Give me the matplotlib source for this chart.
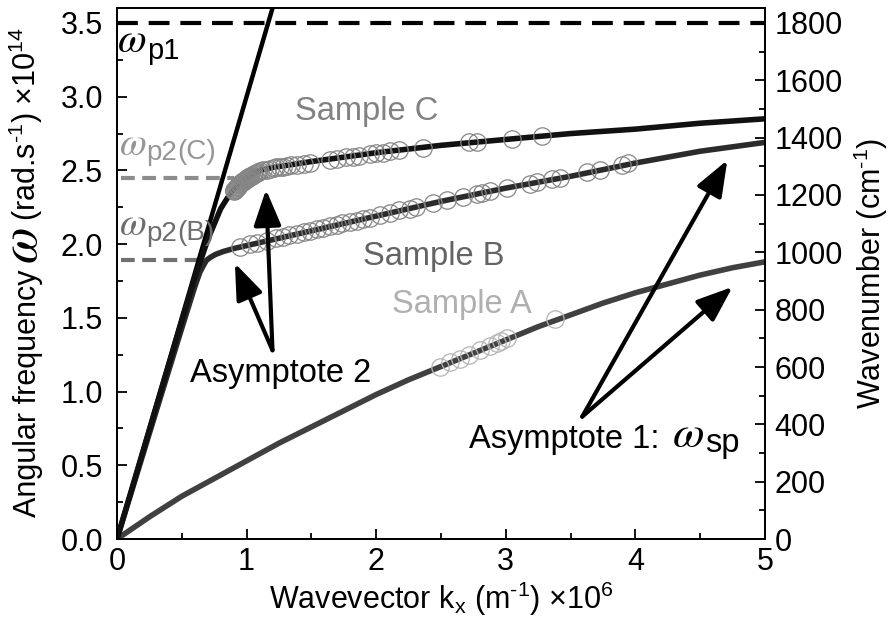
import matplotlib
matplotlib.use('Agg')
import matplotlib.pyplot as plt
from matplotlib.ticker import MultipleLocator

plt.rcParams['font.family'] = ['Liberation Sans', 'DejaVu Sans']
plt.rcParams['mathtext.fontset'] = 'custom'
plt.rcParams['mathtext.rm'] = 'Liberation Sans'
plt.rcParams['mathtext.it'] = 'Liberation Sans:italic'
plt.rcParams['mathtext.bf'] = 'Liberation Sans:bold'
plt.rcParams['mathtext.sf'] = 'Liberation Sans'

# ---------------- data ----------------
# light line
k_light = [0.0, 1.25]
w_light = [0.0, 3.75]

# model curves
k_curveA = [0.0, 0.25, 0.5, 0.75, 1.0, 1.25, 1.5, 1.75, 2.0, 2.25, 2.5, 2.75, 3.0, 3.25,
            3.5, 3.75, 4.0, 4.25, 4.5, 4.75, 5.0]
w_curveA = [0.0, 0.15, 0.29, 0.41, 0.53, 0.65, 0.76, 0.87, 0.98, 1.08, 1.17, 1.26, 1.35,
            1.44, 1.52, 1.60, 1.67, 1.73, 1.79, 1.84, 1.88]

k_curveB = [0.0, 0.3, 0.5, 0.6, 0.64, 0.67, 0.69, 0.72, 0.76, 0.82, 0.9, 1.0, 1.2, 1.5,
            2.0, 2.5, 3.0, 3.5, 4.0, 4.5, 5.0]
w_curveB = [0.0, 0.86, 1.43, 1.71, 1.81, 1.86, 1.89, 1.91, 1.93, 1.95, 1.97, 1.99, 2.03,
            2.09, 2.19, 2.29, 2.38, 2.46, 2.55, 2.63, 2.69]

k_curveC = [0.0, 0.3, 0.6, 0.7, 0.8, 0.85, 0.89, 0.93, 0.97, 1.0, 1.05, 1.1, 1.2, 1.35,
            1.5, 2.0, 2.5, 3.0, 3.5, 4.0, 4.5, 5.0]
w_curveC = [0.0, 0.89, 1.77, 2.03, 2.24, 2.31, 2.36, 2.40, 2.43, 2.45, 2.48, 2.50, 2.52,
            2.54, 2.56, 2.62, 2.67, 2.71, 2.75, 2.78, 2.82, 2.85]

# measured points
k_sampleA = [2.49, 2.57, 2.65, 2.72, 2.80, 2.88, 2.93, 2.96, 3.01, 3.38]
w_sampleA = [1.17, 1.20, 1.22, 1.25, 1.28, 1.31, 1.33, 1.34, 1.36, 1.49]

k_sampleB = [0.95, 1.03, 1.08, 1.16, 1.23, 1.28, 1.33, 1.39, 1.44, 1.49, 1.54, 1.59, 1.64,
             1.70, 1.74, 1.80, 1.85, 1.90, 1.95, 2.03, 2.11, 2.18, 2.26, 2.31, 2.44, 2.55,
             2.67, 2.78, 2.82, 2.88, 3.01, 3.19, 3.24, 3.36, 3.42, 3.63, 3.73, 3.90, 3.94]
w_sampleB = [1.98, 2.00, 2.01, 2.02, 2.04, 2.05, 2.06, 2.07, 2.08, 2.09, 2.10, 2.11, 2.12,
             2.13, 2.14, 2.15, 2.16, 2.17, 2.18, 2.20, 2.21, 2.23, 2.24, 2.25, 2.28, 2.30,
             2.32, 2.34, 2.35, 2.36, 2.38, 2.41, 2.42, 2.44, 2.45, 2.49, 2.50, 2.54, 2.55]

k_sampleC = [0.900, 0.905, 0.910, 0.915, 0.920, 0.925, 0.930, 0.935, 0.940, 0.945, 0.950,
             0.955, 0.960, 0.965, 0.970, 0.975, 0.980, 0.985, 0.990, 0.995, 1.000, 1.005,
             1.010, 1.015, 1.020, 1.025, 1.030, 1.040, 1.050, 1.060, 1.070, 1.080, 1.090,
             1.10, 1.13, 1.16, 1.18, 1.21, 1.23, 1.26, 1.28, 1.31, 1.34, 1.39, 1.44, 1.49,
             1.64, 1.70, 1.77, 1.82, 1.87, 1.95, 2.00, 2.05, 2.11, 2.18, 2.36, 2.72, 2.78,
             3.05, 3.28]
w_sampleC = [2.36, 2.365, 2.37, 2.375, 2.38, 2.385, 2.39, 2.395, 2.40, 2.405, 2.41,
             2.413, 2.416, 2.42, 2.423, 2.426, 2.43, 2.433, 2.436, 2.44, 2.443, 2.446,
             2.45, 2.452, 2.455, 2.457, 2.46, 2.465, 2.47, 2.475, 2.48, 2.485, 2.49,
             2.495, 2.50, 2.505, 2.51, 2.515, 2.52, 2.52, 2.525, 2.53, 2.535, 2.54, 2.545,
             2.55, 2.57, 2.58, 2.59, 2.59, 2.60, 2.61, 2.62, 2.62, 2.63, 2.64, 2.65, 2.69,
             2.69, 2.71, 2.73]

# plasma frequencies
w_p1 = 3.5
w_p2C = 2.45
w_p2B = 1.89
k_p2C_end = 0.90
k_p2B_end = 0.69

# ---------------- figure ----------------
fs = 22
fs_txt = 23.5
OMEGA = dict(fontfamily='STIXGeneral', fontstyle='italic')
FIG_W, FIG_H = 895, 623

fig = plt.figure(figsize=(8.95, 6.23), dpi=100)
ax = fig.add_axes([0.1307, 0.1348, 0.724, 0.852])

ax.axhline(w_p1, color='black', lw=3.0, linestyle=(0, (5, 2.6)), zorder=2)
ax.plot([0.03, k_p2C_end], [w_p2C, w_p2C], color='#8c8c8c', lw=3.0,
        linestyle=(0, (3.3, 1.8)), zorder=2)
ax.plot([0.03, k_p2B_end], [w_p2B, w_p2B], color='#707070', lw=3.0,
        linestyle=(0, (3.3, 1.8)), zorder=2)

ax.plot(k_light, w_light, color='black', lw=3.2, zorder=3)
ax.plot(k_curveA, w_curveA, color='#404040', lw=4.0, zorder=3)
ax.plot(k_curveB, w_curveB, color='#2b2b2b', lw=4.0, zorder=3)
ax.plot(k_curveC, w_curveC, color='#111111', lw=4.0, zorder=3)

ms = 12.5
ax.plot(k_sampleA, w_sampleA, 'o', mfc='none', mec='#b4b4b4', mew=0.9, ms=ms, zorder=4)
ax.plot(k_sampleB, w_sampleB, 'o', mfc='none', mec='#868686', mew=0.9, ms=ms, zorder=4)
ax.plot(k_sampleC, w_sampleC, 'o', mfc='none', mec='#868686', mew=0.9, ms=ms, zorder=4)


def omega_text(x, y, sub, color, size_w, size_s, tail=None, gap=0.0):
    t1 = ax.text(x, y, 'ω', fontsize=size_w, color=color, va='baseline', ha='left',
                 zorder=6, **OMEGA)
    t2 = ax.annotate(sub, xy=(1, 0), xycoords=t1, xytext=(gap, 2.0),
                     textcoords='offset points', fontsize=size_s, color=color,
                     va='baseline', ha='left', zorder=6)
    if tail is not None:
        ax.annotate(tail, xy=(1, 0), xycoords=t2, xytext=(0.5, 5.0),
                    textcoords='offset points', fontsize=size_s, color=color,
                    va='baseline', ha='left', zorder=6)
    return t1


omega_text(0.01, 3.30, 'p1', 'black', 30, 21)
omega_text(0.02, 2.605, 'p2', '#969696', 28, 20, tail='(C)')
omega_text(0.02, 2.06, 'p2', '#6e6e6e', 28, 20, tail='(B)')

ax.text(1.37, 2.84, 'Sample C', fontsize=fs_txt, color='#828282', va='baseline', ha='left')
ax.text(2.99, 1.86, 'Sample B', fontsize=fs_txt, color='#646464', va='baseline', ha='right')
ax.text(3.20, 1.53, 'Sample A', fontsize=fs_txt, color='#b0b0b0', va='baseline', ha='right')
ax.text(0.56, 1.065, 'Asymptote 2', fontsize=fs_txt, color='black', va='baseline', ha='left')
ta1 = ax.text(2.72, 0.62, 'Asymptote 1:', fontsize=fs_txt, color='black',
              va='baseline', ha='left')
tw = ax.annotate('ω', xy=(1, 0), xycoords=ta1, xytext=(9, 5.5), textcoords='offset points',
                 fontsize=33, color='black', va='baseline', ha='left', **OMEGA)
ax.annotate('sp', xy=(1, 0), xycoords=tw, xytext=(0.5, 2.5), textcoords='offset points',
            fontsize=fs_txt, color='black', va='baseline', ha='left')

arrow_kw = dict(arrowstyle='-|>,head_length=1.1,head_width=0.42', lw=3.0, color='black',
                mutation_scale=20, shrinkA=0, shrinkB=0)
for tail, head in [((1.20, 1.28), (0.91, 1.87)), ((1.20, 1.28), (1.15, 2.37)),
                   ((3.59, 0.83), (4.71, 2.57)), ((3.59, 0.83), (4.75, 1.71))]:
    ax.annotate('', xy=head, xytext=tail, arrowprops=arrow_kw, zorder=5)

ax.set_xlim(0, 5)
ax.set_ylim(0, 3.6)
ax.xaxis.set_major_locator(MultipleLocator(1))
ax.xaxis.set_minor_locator(MultipleLocator(0.5))
ax.yaxis.set_major_locator(MultipleLocator(0.5))
ax.yaxis.set_minor_locator(MultipleLocator(0.25))
ax.tick_params(which='both', direction='in', top=False, right=False, width=1.3,
               labelsize=fs, pad=6)
ax.tick_params(axis='y', which='both', pad=10)
ax.tick_params(which='major', length=7)
ax.tick_params(which='minor', length=4)
for s in ax.spines.values():
    s.set_linewidth(1.3)

ax.set_xlabel(r'Wavevector k$_{\mathrm{x}}$ (m$^{\text{-1}}$) ×10$^{\mathrm{6}}$',
              fontsize=fs, labelpad=2)

ax2 = ax.twinx()
ax2.set_ylim(0, 3.6 * 1800 / 3.5)
ax2.yaxis.set_major_locator(MultipleLocator(200))
ax2.yaxis.set_minor_locator(MultipleLocator(100))
ax2.tick_params(which='both', direction='in', width=1.3, labelsize=fs, pad=7)
ax2.tick_params(which='major', length=7)
ax2.tick_params(which='minor', length=4)
ax2.set_ylabel(r'Wavenumber (cm$^{\text{-1}}$)', fontsize=fs, labelpad=6)
for s in ax2.spines.values():
    s.set_linewidth(1.3)

# left y label built from pieces (large italic omega)
ylabel_parts = [('Angular frequency', dict(fontsize=fs), 7),
                ('ω', dict(fontsize=38, **OMEGA), 5),
                (r'(rad.s$^{\text{-1}}$) ×10$^{\mathrm{14}}$', dict(fontsize=fs), 0)]
pieces = []
for s, kw, g in ylabel_parts:
    t = fig.text(0, 0, s, rotation=90, rotation_mode='anchor', ha='left', va='baseline', **kw)
    pieces.append((t, g))
fig.canvas.draw()
rend = fig.canvas.get_renderer()
lengths = [t.get_window_extent(rend).height for t, g in pieces]
total = sum(lengths) + sum(g for t, g in pieces[:-1])
y_px = 272 + total / 2.0  # bottom of label in pixels from top
x_base = 36
for (t, g), L in zip(pieces, lengths):
    t.set_position((x_base / FIG_W, 1 - y_px / FIG_H))
    y_px -= L + g

fig.savefig('out.png', dpi=100)
